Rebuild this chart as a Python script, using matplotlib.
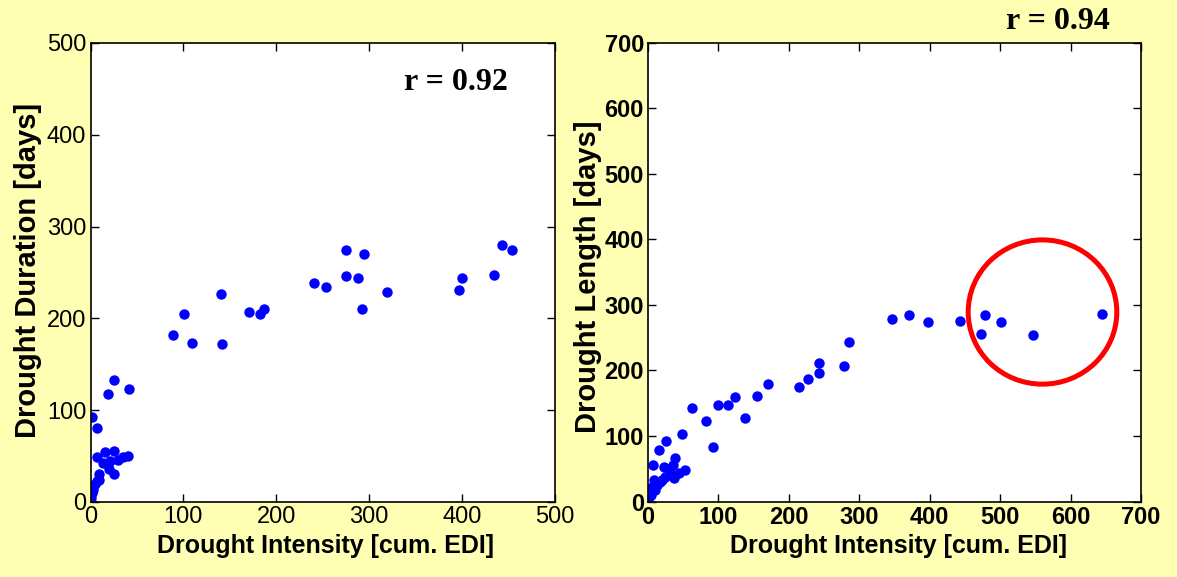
import numpy as np
from matplotlib import pyplot as plt
from matplotlib.patches import Ellipse

plt.rcParams['font.family'] = ['Liberation Sans', 'DejaVu Sans']

# left panel: intensity vs duration
int_dur = [88.5, 100.6, 109, 140, 141, 171, 182.5, 187, 240, 253, 275, 275, 287.6, 294, 292,
           319, 397, 399.6, 434, 443, 453.6,
           19, 41, 25, 1.6, 6.7, 7.3, 15.6, 25.6, 13.5, 21, 19.6, 25.3, 30, 34.7, 40, 9, 9.5,
           6.7, 4.8, 3, 2.3, 1.3, 0.2, 0]
duration = [181.6, 205, 173, 227, 172, 207, 205, 210, 239, 234, 274, 246, 244, 270, 210.5,
            229, 231, 244, 247, 280, 274.5,
            118, 123, 133, 93, 81, 48.7, 54.5, 55.5, 43, 44.7, 35.6, 31, 45.8, 48.7, 50.4, 30.5, 24,
            23, 20, 16.7, 13, 9.5, 4, 0.3]

# right panel: intensity vs length
int_len = [242.5, 242.5, 227, 214, 170, 154.4, 124, 113.6, 99, 138, 82.4, 92.8, 62, 48, 25.6,
           16, 7.5, 23, 38, 36, 53, 44.5, 36.5, 31, 24, 17, 8.5, 5.2, 2.8, 1.4, 0.4,
           346.6, 370, 397.7, 442.8, 477.7, 473.4, 501.8, 547, 644, 285.5, 278.4,
           12, 20, 10, 4]
length = [211.6, 196, 187, 174, 179, 161, 159, 147.6, 147.6, 128, 123, 83, 142.5, 103, 92,
          78, 56, 52.6, 66.3, 55, 47.6, 44, 36, 43, 38, 30, 33, 22.6, 15, 7.3, 0,
          278.7, 284, 273.6, 275.6, 284, 255.8, 273.6, 254, 286, 243.6, 206.6,
          25, 33, 18, 10]

r_left = 'r = 0.92'
r_right = 'r = 0.94'

bg = '#FFFFB3'
fig = plt.figure(figsize=(11.77, 5.77), dpi=100, facecolor=bg)

ax1 = fig.add_axes([0.0769, 0.130, 0.3947, 0.7955])
ax2 = fig.add_axes([0.5506, 0.1308, 0.4189, 0.7955])

for ax in (ax1, ax2):
    ax.tick_params(direction='in', length=6, width=1, top=True, right=True, pad=3)
    for s in ax.spines.values():
        s.set_linewidth(1.2)

ax1.plot(int_dur, duration, 'o', color='#0000FF', ms=7.5, mec='none')
ax1.set_xlim(0, 500)
ax1.set_ylim(0, 500)
ax1.set_xticks(np.arange(0, 501, 100))
ax1.set_yticks(np.arange(0, 501, 100))
for lab in ax1.get_xticklabels() + ax1.get_yticklabels():
    lab.set_fontsize(17)
ax1.set_xlabel('Drought Intensity [cum. EDI]', fontsize=18, fontweight='bold')
ax1.set_ylabel('Drought Duration [days]', fontsize=21, fontweight='bold')
ax1.xaxis.set_label_coords(0.505, -0.07)
ax1.yaxis.set_label_coords(-0.104, 0.505)
ax1.text(0.787, 0.915, r_left, transform=ax1.transAxes, ha='center', va='center',
         fontsize=23, fontweight='bold', family='Liberation Serif')

ax2.plot(int_len, length, 'o', color='#0000FF', ms=7.5, mec='none')
ax2.set_xlim(0, 700)
ax2.set_ylim(0, 700)
ax2.set_xticks(np.arange(0, 701, 100))
ax2.set_yticks(np.arange(0, 701, 100))
for lab in ax2.get_xticklabels() + ax2.get_yticklabels():
    lab.set_fontsize(17)
    lab.set_fontweight('bold')
ax2.set_xlabel('Drought Intensity [cum. EDI]', fontsize=18, fontweight='bold')
ax2.set_ylabel('Drought Length [days]', fontsize=21, fontweight='bold')
ax2.xaxis.set_label_coords(0.507, -0.07)
ax2.yaxis.set_label_coords(-0.093, 0.49)
ax2.add_patch(Ellipse((560, 289), 211, 220, fill=False, ec='#FF0000', lw=3.6))
fig.text(0.899, 0.962, r_right, ha='center', va='center',
         fontsize=23, fontweight='bold', family='Liberation Serif')

fig.savefig('out.png', dpi=100, facecolor=bg)
